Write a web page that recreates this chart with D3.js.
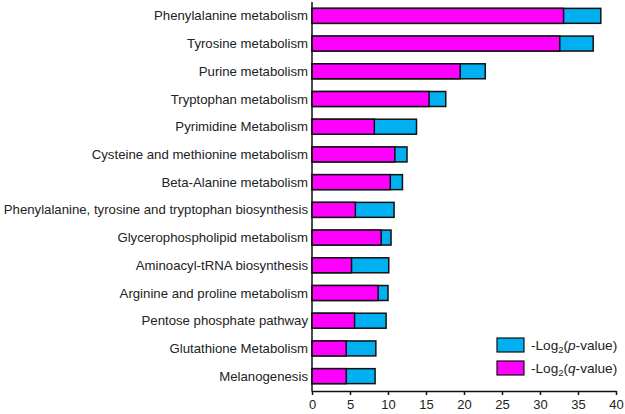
<!DOCTYPE html>
<html><head><meta charset="utf-8">
<script src="https://cdn.jsdelivr.net/npm/d3@7"></script>
<style>body{margin:0;background:#fff;}svg{display:block;font-family:"Liberation Sans",Arial,sans-serif;}</style>
</head><body><svg id="c" width="625" height="414"></svg>
<script>
const categories = ["Phenylalanine metabolism","Tyrosine metabolism","Purine metabolism","Tryptophan metabolism","Pyrimidine Metabolism","Cysteine and methionine metabolism","Beta-Alanine metabolism","Phenylalanine, tyrosine and tryptophan biosynthesis","Glycerophospholipid metabolism","Aminoacyl-tRNA biosynthesis","Arginine and proline metabolism","Pentose phosphate pathway","Glutathione Metabolism","Melanogenesis"];
const pValues = [38.0,37.0,22.8,17.6,13.75,12.5,11.9,10.8,10.4,10.1,10.0,9.75,8.4,8.3];
const qValues = [33.1,32.6,19.5,15.4,8.2,10.9,10.3,5.7,9.1,5.2,8.7,5.6,4.5,4.5];
const xTicks = [0,5,10,15,20,25,30,35,40];

const svg = d3.select("#c");
const x = d3.scaleLinear().domain([0,40]).range([312,616]);
const y = d3.scaleBand().domain(categories).range([2,390]).paddingInner(0.46).paddingOuter(0.23);

const g = svg.append("g");
categories.forEach((c,i)=>{
  g.append("rect").attr("x",x(0)).attr("y",y(c)).attr("width",x(pValues[i])-x(0)).attr("height",y.bandwidth())
    .attr("fill","#00B0F0").attr("stroke","#111").attr("stroke-width",1.5);
  g.append("rect").attr("x",x(0)).attr("y",y(c)).attr("width",x(qValues[i])-x(0)).attr("height",y.bandwidth())
    .attr("fill","#FF00FF").attr("stroke","#111").attr("stroke-width",1.5);
});

// y axis line
svg.append("line").attr("x1",x(0)).attr("x2",x(0)).attr("y1",2).attr("y2",391.5).attr("stroke","#111").attr("stroke-width",1.5);
// category labels
svg.append("g").selectAll("text").data(categories).join("text")
  .attr("x",x(0)-4).attr("y",c=>y(c)+y.bandwidth()/2).attr("dy","0.35em")
  .attr("text-anchor","end").attr("font-size",13.2).attr("fill","#222").text(d=>d);

// x axis
const xa = svg.append("g").attr("transform","translate(0,391)")
  .call(d3.axisBottom(x).tickValues(xTicks).tickSize(4).tickSizeOuter(0).tickPadding(5));
xa.select(".domain").attr("stroke","#111").attr("stroke-width",1.5);
xa.selectAll(".tick line").attr("stroke","#111").attr("stroke-width",1.5);
xa.selectAll("text").attr("font-size",13).attr("fill","#222").attr("font-family","Liberation Sans, Arial, sans-serif");

// legend
const legend = [{c:"#00B0F0",v:"p"},{c:"#FF00FF",v:"q"}];
legend.forEach((l,i)=>{
  const ly = 338 + i*23;
  svg.append("rect").attr("x",497).attr("y",ly).attr("width",27).attr("height",14)
    .attr("fill",l.c).attr("stroke","#111").attr("stroke-width",1.2);
  const t = svg.append("text").attr("x",531).attr("y",ly+7).attr("dy","0.35em").attr("font-size",13.6).attr("fill","#222");
  t.append("tspan").text("-Log");
  t.append("tspan").attr("font-size",9.5).attr("dy",3).text("2");
  t.append("tspan").attr("dy",-3).text("(");
  t.append("tspan").attr("font-style","italic").text(l.v);
  t.append("tspan").text("-value)");
});
</script></body></html>
